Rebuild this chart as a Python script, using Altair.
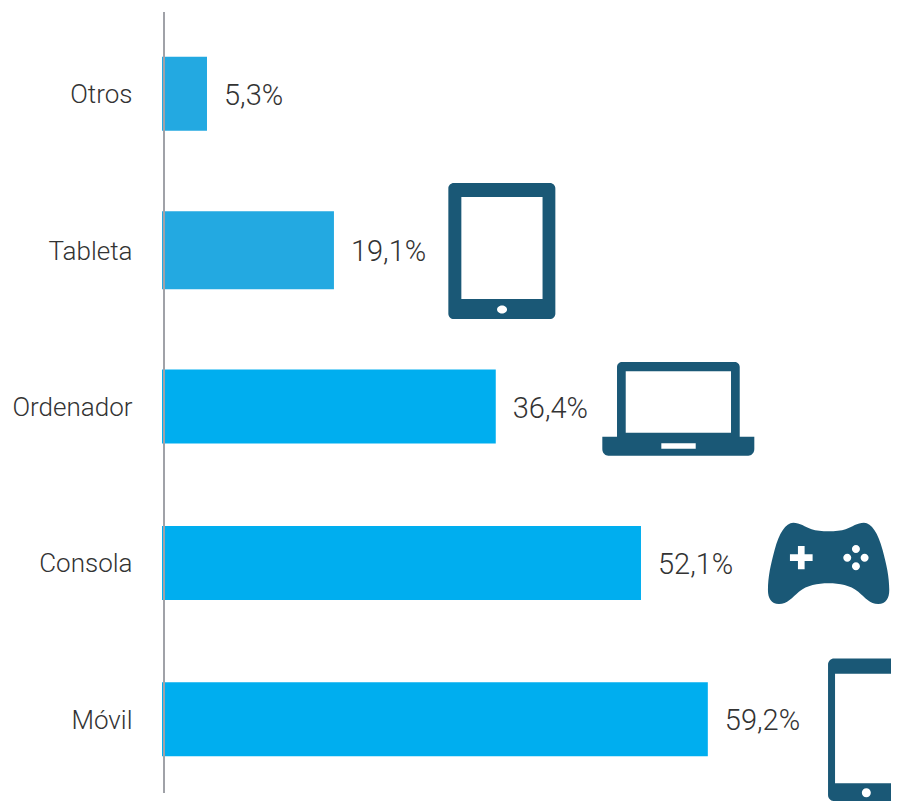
import altair as alt
import pandas as pd

categories = ["Otros", "Tableta", "Ordenador", "Consola", "Móvil"]
bar_lengths = [4.88, 18.65, 36.2, 51.95, 59.2]
labels = ["5,3%", "19,1%", "36,4%", "52,1%", "59,2%"]

FONT = "Roboto"
AXIS_SIZE = 26
LABEL_SIZE = 29
WEIGHT = 300
DARK = "#1A5876"
PLOT_W = 729
XMAX = PLOT_W / 9.22


def rect(x0, y0, x1, y1, r=0, cw=True):
    k = r * 0.45
    if cw:
        return (f"M{x0+r},{y0} L{x1-r},{y0} C{x1-k},{y0} {x1},{y0+k} {x1},{y0+r} "
                f"L{x1},{y1-r} C{x1},{y1-k} {x1-k},{y1} {x1-r},{y1} "
                f"L{x0+r},{y1} C{x0+k},{y1} {x0},{y1-k} {x0},{y1-r} "
                f"L{x0},{y0+r} C{x0},{y0+k} {x0+k},{y0} {x0+r},{y0} Z ")
    return f"M{x0},{y0} L{x0},{y1} L{x1},{y1} L{x1},{y0} Z "


def ellipse(cx, cy, rx, ry):
    a, b = rx * 0.55, ry * 0.55
    return (f"M{cx+rx},{cy} C{cx+rx},{cy-b} {cx+a},{cy-ry} {cx},{cy-ry} "
            f"C{cx-a},{cy-ry} {cx-rx},{cy-b} {cx-rx},{cy} "
            f"C{cx-rx},{cy+b} {cx-a},{cy+ry} {cx},{cy+ry} "
            f"C{cx+a},{cy+ry} {cx+rx},{cy+b} {cx+rx},{cy} Z ")


def norm(path):
    out = []
    for tok in path.split():
        if "," in tok:
            cmd = ""
            if tok[0].isalpha():
                cmd, tok = tok[0], tok[1:]
            a, b = tok.split(",")
            out.append(f"{cmd}{float(a)/100:.4f},{float(b)/100:.4f}")
        else:
            out.append(tok)
    return " ".join(out)


u = 0.68
tablet = norm(
    rect(-53.5/u, -68/u, 53.5/u, 68/u, 8)
    + rect(-40.5/u, -54/u, 40.7/u, 48/u, 0, False)
    + ellipse(0.2/u, 58.5/u, 5/u, 4/u)
)

u = 0.76
laptop = norm(
    f"M{-61.3/u},{-42/u} C{-61.3/u},{-45/u} {-59/u},{-47/u} {-56/u},{-47/u} "
    f"L{56/u},{-47/u} C{59/u},{-47/u} {61.4/u},{-45/u} {61.4/u},{-42/u} "
    f"L{61.4/u},{27.7/u} L{76/u},{27.7/u} L{76/u},{40/u} "
    f"C{76/u},{44/u} {73/u},{46.7/u} {70/u},{46.7/u} L{-70/u},{46.7/u} "
    f"C{-73/u},{46.7/u} {-76/u},{44/u} {-76/u},{40/u} L{-76/u},{27.7/u} L{-61.3/u},{27.7/u} Z "
    + rect(-52.6/u, -37.7/u, 52.7/u, 23.7/u, 0, False)
    + rect(-17/u, 34.3/u, 17.4/u, 39.7/u, 0, False)
)


def gp(x, y):
    return f"{(x-236)/3/0.65:.3f},{(y-160)/3/0.65:.3f}"


def gp_path(cmds):
    toks = []
    for c in cmds:
        toks.append(c if isinstance(c, str) else gp(*c))
    out, i = [], 0
    while i < len(toks):
        if toks[i] in "MLC":
            out.append(toks[i] + toks[i + 1])
            i += 2
        else:
            out.append(toks[i])
            i += 1
    return " ".join(out)


outline = [
    "M", (130, 38), "C", (150, 38), (165, 50), (185, 58),
    "C", (210, 66), (262, 66), (287, 58),
    "C", (307, 50), (322, 38), (342, 38),
    "C", (365, 38), (385, 70), (398, 120),
    "C", (410, 165), (418, 200), (418, 240),
    "C", (418, 265), (408, 282), (385, 282),
    "C", (360, 282), (345, 262), (325, 245),
    "C", (300, 226), (270, 220), (236, 220),
    "C", (202, 220), (172, 226), (147, 245),
    "C", (127, 262), (112, 282), (87, 282),
    "C", (64, 282), (54, 265), (54, 240),
    "C", (54, 200), (62, 165), (74, 120),
    "C", (87, 70), (107, 38), (130, 38), "Z",
]
plus = [
    "M", (144, 108), "L", (144, 133), "L", (120, 133), "L", (120, 153),
    "L", (144, 153), "L", (144, 178), "L", (164, 178), "L", (164, 153),
    "L", (188, 153), "L", (188, 133), "L", (164, 133), "L", (164, 108), "Z",
]
dots = ""
for cx, cy in [(318, 117), (344, 143), (318, 169), (292, 143)]:
    dots += ellipse((cx - 236) / 3 / 0.65, (cy - 160) / 3 / 0.65, 4 / 0.65, 4 / 0.65)
gamepad = norm(gp_path(outline) + " " + gp_path(plus) + " " + dots)

u = 0.76
phone = norm(
    rect(-38/u, -71.3/u, 38/u, 71.3/u, 8)
    + rect(-31/u, -56/u, 31/u, 53.5/u, 0, False)
    + ellipse(0.3/u, 63/u, 4.5/u, 4.5/u)
)

df = pd.DataFrame({"cat": categories, "len": bar_lengths, "label": labels})

x_scale = alt.Scale(domain=[0, XMAX], range=[0, PLOT_W])
y_scale = alt.Scale(domain=categories, paddingInner=0.526, paddingOuter=0.26, align=0.55)

x = alt.X("len:Q", scale=x_scale, axis=None)
y = alt.Y(
    "cat:N",
    sort=categories,
    scale=y_scale,
    title=None,
    axis=alt.Axis(
        domain=False, ticks=False, grid=False, labelPadding=30, labelOffset=1.5,
        labelFont=FONT, labelFontSize=AXIS_SIZE, labelFontWeight=WEIGHT, labelColor="#333333",
    ),
)

bars = alt.Chart(df).mark_bar(cornerRadius=0).encode(
    x=x,
    y=y,
    size=alt.condition("datum.cat === 'Tableta'", alt.value(78), alt.value(74)),
    color=alt.condition(
        "datum.cat === 'Otros' || datum.cat === 'Tableta'",
        alt.value("#23A9E1"), alt.value("#00AEEF"),
    ),
)

text = alt.Chart(df).mark_text(
    align="left", baseline="middle", dx=17, dy=2, font=FONT, fontSize=LABEL_SIZE,
    fontWeight=WEIGHT, color="#333333",
).encode(x=x, y=y, text="label:N")

axis_line = alt.Chart(df.head(1)).mark_rule(color="#A0A2A8", strokeWidth=2).encode(
    x=alt.value(2), y=alt.value(0), y2=alt.value(781)
)


def icon(cat, xval, path, box, dy):
    d = pd.DataFrame({"cat": [cat], "len": [xval]})
    return alt.Chart(d).mark_point(
        shape=path, size=box * box, filled=True, fill=DARK, fillOpacity=1, opacity=1,
        strokeWidth=0, yOffset=dy,
    ).encode(x=x, y=y)


icons = [
    icon("Tableta", 36.86, tablet, 136, 0.9),
    icon("Ordenador", 56.0, laptop, 152, 2.4),
    icon("Consola", 72.3, gamepad, 130, 0.4),
    icon("Móvil", 76.36, phone, 152, 10.4),
]

chart = alt.layer(bars, axis_line, text, *icons).properties(
    width=PLOT_W,
    height=781,
    autosize=alt.AutoSizeParams(type="none"),
    padding={"left": 154, "top": 4, "right": 0, "bottom": 8},
).configure_view(stroke=None)

chart.save("out.html", embed_options={"renderer": "svg", "actions": False})
